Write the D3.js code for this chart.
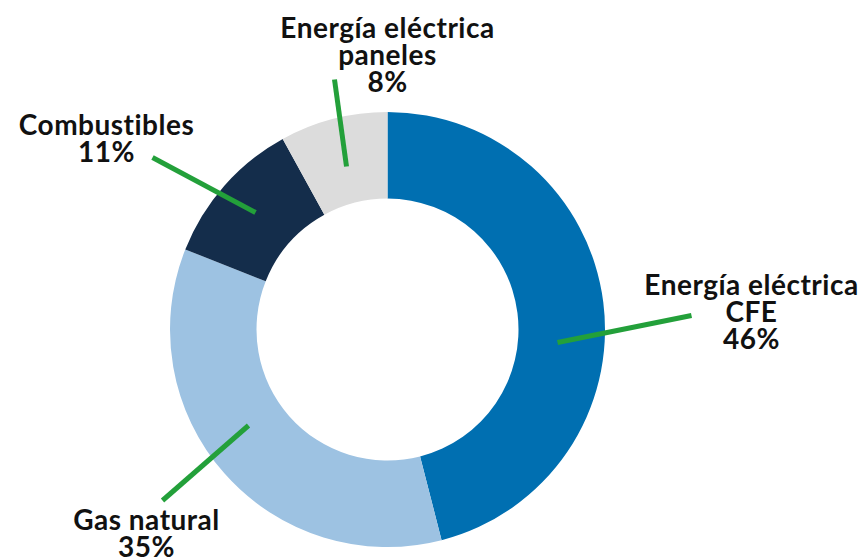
<!DOCTYPE html>
<html>
<head>
<meta charset="utf-8">
<script src="https://cdn.jsdelivr.net/npm/d3@7"></script>
<style>
  body { margin: 0; background: #fff; }
  svg text { font-family: Lato, "Noto Sans", sans-serif; font-weight: 700; fill: #111; letter-spacing: 0.5px; }
</style>
</head>
<body>
<svg id="chart" width="863" height="558"></svg>
<script>
const categories = ['Energía eléctrica CFE', 'Gas natural', 'Combustibles', 'Energía eléctrica paneles'];
const values = [46, 35, 11, 8];
const labelLines = [
    ['Energía eléctrica', 'CFE', '46%'],
    ['Gas natural', '35%'],
    ['Combustibles', '11%'],
    ['Energía eléctrica', 'paneles', '8%'],
];
const colors = ['#006fb1', '#9dc2e2', '#142d4b', '#dcdcdc'];

// label / leader layout, offsets from center
const layout = [
    { from: [170, 13], to: [304, -14], text: [364, -35] },
    { from: [-139, 96], to: [-225, 171], text: [-241, 200] },
    { from: [-132, -117], to: [-235, -172], text: [-281, -195] },
    { from: [-41, -163], to: [-53, -250], text: [0, -292] },
];

const cx = 387.5, cy = 329.5;
const outer = 217.5, inner = 131;

const svg = d3.select('#chart');
const g = svg.append('g').attr('transform', `translate(${cx},${cy})`);

const pie = d3.pie().sort(null).value(d => d);
const arc = d3.arc().innerRadius(inner).outerRadius(outer);

g.selectAll('path.slice')
    .data(pie(values))
    .enter()
    .append('path')
    .attr('class', 'slice')
    .attr('d', arc)
    .attr('fill', (d, i) => colors[i]);

g.selectAll('line.leader')
    .data(layout)
    .enter()
    .append('line')
    .attr('class', 'leader')
    .attr('x1', d => d.from[0])
    .attr('y1', d => d.from[1])
    .attr('x2', d => d.to[0])
    .attr('y2', d => d.to[1])
    .attr('stroke', '#23a03a')
    .attr('stroke-width', 5);

const labels = g.selectAll('text.label')
    .data(labelLines)
    .enter()
    .append('text')
    .attr('class', 'label')
    .attr('text-anchor', 'middle')
    .attr('font-size', 28)
    .attr('x', (d, i) => layout[i].text[0])
    .attr('y', (d, i) => layout[i].text[1]);

labels.selectAll('tspan')
    .data(d => d)
    .enter()
    .append('tspan')
    .attr('x', function () { return this.parentNode.getAttribute('x'); })
    .attr('dy', (d, i) => i === 0 ? 0 : 27)
    .text(d => d);
</script>
</body>
</html>
